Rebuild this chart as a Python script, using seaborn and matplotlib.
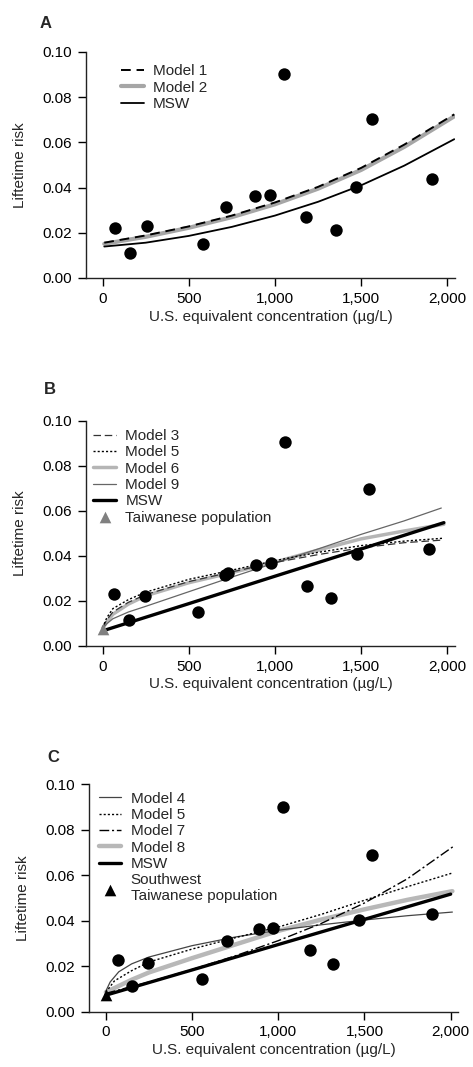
import matplotlib
matplotlib.use("Agg")
import matplotlib.pyplot as plt
import seaborn as sns
import numpy as np

# ---------------- data ----------------
# Panel A observed points
a_x = [70, 160, 255, 585, 715, 883, 970, 1050, 1183, 1353, 1469, 1563, 1909]
a_y = [0.0223, 0.0110, 0.0230, 0.0150, 0.0316, 0.0363, 0.0366, 0.0904, 0.0269, 0.0211, 0.0404, 0.0705, 0.0437]
# Panel A curves
a_curve_x = [10, 250, 500, 750, 1000, 1250, 1500, 1750, 2040]
a_model1 = [0.0156, 0.0188, 0.0228, 0.0276, 0.0334, 0.0403, 0.0487, 0.0590, 0.0724]
a_model2 = [0.0151, 0.0182, 0.0222, 0.0269, 0.0326, 0.0395, 0.0478, 0.0580, 0.0715]
a_msw = [0.0139, 0.0156, 0.0186, 0.0226, 0.0276, 0.0337, 0.0410, 0.0497, 0.0614]

# Panel B observed points
b_x = [68, 151, 245, 556, 709, 725, 891, 976, 1057, 1185, 1328, 1474, 1548, 1894]
b_y = [0.0230, 0.0114, 0.0221, 0.0149, 0.0315, 0.0324, 0.0361, 0.0367, 0.0905, 0.0267, 0.0212, 0.0406, 0.0698, 0.0429]
# Panel B curves
b_curve_x = [0, 25, 60, 150, 250, 500, 750, 1000, 1250, 1500, 1750, 1980]
b_model3 = [0.0080, 0.0115, 0.0150, 0.0193, 0.0227, 0.0285, 0.0328, 0.0370, 0.0405, 0.0435, 0.0458, 0.0470]
b_model5 = [0.0080, 0.0125, 0.0165, 0.0205, 0.0238, 0.0295, 0.0336, 0.0378, 0.0415, 0.0445, 0.0465, 0.0478]
b_model6 = [0.0078, 0.0105, 0.0140, 0.0185, 0.0222, 0.0280, 0.0325, 0.0372, 0.0425, 0.0475, 0.0510, 0.0540]
b_model9_x = [0, 25, 60, 150, 250, 500, 750, 1000, 1250, 1500, 1750, 1965]
b_model9 = [0.0076, 0.0098, 0.0120, 0.0150, 0.0175, 0.0240, 0.0305, 0.0368, 0.0430, 0.0495, 0.0555, 0.0612]
b_msw_x = [0, 500, 1000, 1500, 1980]
b_msw = [0.0066, 0.0187, 0.0309, 0.0430, 0.0547]
b_taiwan_x = [0]
b_taiwan_y = [0.0076]

# Panel C observed points
c_x = [70, 151, 242, 555, 701, 887, 972, 1030, 1184, 1320, 1469, 1544, 1890]
c_y = [0.0225, 0.0112, 0.0215, 0.0144, 0.0310, 0.0363, 0.0366, 0.0899, 0.0269, 0.0210, 0.0401, 0.0690, 0.0431]
# Panel C curves
c_model4_x = [0, 25, 75, 150, 250, 500, 750, 1000, 1250, 1500, 1750, 2010]
c_model4 = [0.0090, 0.0130, 0.0175, 0.0210, 0.0240, 0.0290, 0.0328, 0.0358, 0.0382, 0.0403, 0.0422, 0.0438]
c_model5_x = [0, 50, 150, 250, 500, 750, 1000, 1250, 1500, 1750, 2010]
c_model5 = [0.0085, 0.0135, 0.0180, 0.0218, 0.0275, 0.0325, 0.0372, 0.0428, 0.0490, 0.0550, 0.0610]
c_model7_x = [0, 250, 500, 750, 1000, 1250, 1500, 1750, 2025]
c_model7 = [0.0080, 0.0130, 0.0185, 0.0245, 0.0312, 0.0388, 0.0478, 0.0585, 0.0732]
c_model8_x = [0, 150, 250, 500, 750, 1000, 1250, 1500, 1750, 2010]
c_model8 = [0.0085, 0.0140, 0.0172, 0.0235, 0.0295, 0.0355, 0.0405, 0.0450, 0.0492, 0.0530]
c_msw_x = [0, 500, 1000, 1500, 2000]
c_msw = [0.0072, 0.0183, 0.0295, 0.0406, 0.0517]
c_taiwan_x = [0]
c_taiwan_y = [0.0071]

x_ticks = [0, 500, 1000, 1500, 2000]
x_tick_labels = ["0", "500", "1,000", "1,500", "2,000"]
y_ticks = [0.00, 0.02, 0.04, 0.06, 0.08, 0.10]
y_tick_labels = ["0.00", "0.02", "0.04", "0.06", "0.08", "0.10"]
x_label = "U.S. equivalent concentration (\u00b5g/L)"
y_label = "Liftetime risk"

# ---------------- style ----------------
sns.set_style("ticks")
plt.rcParams["font.family"] = ["Liberation Sans", "DejaVu Sans"]
plt.rcParams["font.size"] = 11
plt.rcParams["axes.linewidth"] = 1.0
plt.rcParams["xtick.major.size"] = 6
plt.rcParams["ytick.major.size"] = 6
plt.rcParams["xtick.major.width"] = 1.0
plt.rcParams["ytick.major.width"] = 1.0
plt.rcParams["xtick.color"] = "black"
plt.rcParams["ytick.color"] = "black"
plt.rcParams["axes.edgecolor"] = "#222222"

fig = plt.figure(figsize=(4.73, 10.67), dpi=100)

axA = fig.add_axes([0.1818, 0.7395, 0.780, 0.2118])
axB = fig.add_axes([0.1818, 0.3948, 0.780, 0.2109])
axC = fig.add_axes([0.1888, 0.0520, 0.780, 0.2128])


def style_axis(ax):
    ax.set_xlim(-96, 2044)
    ax.set_ylim(0, 0.1)
    ax.set_xticks(x_ticks)
    ax.set_xticklabels(x_tick_labels, fontsize=11)
    ax.set_yticks(y_ticks)
    ax.set_yticklabels(y_tick_labels, fontsize=11)
    ax.tick_params(axis="both", pad=4, direction="out")
    sns.despine(ax=ax)
    ax.set_xlabel(x_label, fontsize=11)
    ax.set_ylabel(y_label, fontsize=11)
    ax.xaxis.set_label_coords(0.5, -0.14)
    ax.yaxis.set_label_coords(-0.16, 0.5)


def dots(ax, xs, ys):
    sns.scatterplot(x=xs, y=ys, ax=ax, color="black", s=80, edgecolor="black",
                    linewidth=0, zorder=5, legend=False)


leg_kw = dict(loc="upper left", frameon=False, handlelength=1.5, handletextpad=0.6,
              labelspacing=0.15, borderpad=0, borderaxespad=0, fontsize=11)

# ---------------- Panel A ----------------
sns.lineplot(x=a_curve_x, y=a_model2, ax=axA, color="#a6a6a6", lw=3.0, label="Model 2", zorder=2)
sns.lineplot(x=a_curve_x, y=a_model1, ax=axA, color="black", lw=1.4, linestyle=(0, (5, 3)), label="Model 1", zorder=3)
sns.lineplot(x=a_curve_x, y=a_msw, ax=axA, color="black", lw=1.3, label="MSW", zorder=3)
dots(axA, a_x, a_y)
style_axis(axA)
h, l = axA.get_legend_handles_labels()
order = [l.index("Model 1"), l.index("Model 2"), l.index("MSW")]
axA.legend([h[i] for i in order], [l[i] for i in order],
           bbox_to_anchor=(0.095, 0.945), **leg_kw)

# ---------------- Panel B ----------------
sns.lineplot(x=b_curve_x, y=b_model6, ax=axB, color="#b5b5b5", lw=2.5, label="Model 6", zorder=2)
sns.lineplot(x=b_model9_x, y=b_model9, ax=axB, color="#666666", lw=0.9, label="Model 9", zorder=3)
sns.lineplot(x=b_curve_x, y=b_model3, ax=axB, color="#333333", lw=0.9, linestyle=(0, (6, 3)), label="Model 3", zorder=3)
sns.lineplot(x=b_curve_x, y=b_model5, ax=axB, color="black", lw=1.0, linestyle=(0, (1.5, 1.5)), label="Model 5", zorder=3)
sns.lineplot(x=b_msw_x, y=b_msw, ax=axB, color="black", lw=2.4, label="MSW", zorder=4)
sns.scatterplot(x=b_taiwan_x, y=b_taiwan_y, ax=axB, color="#808080", marker="^", s=70,
                linewidth=0, zorder=6, label="Taiwanese population")
dots(axB, b_x, b_y)
style_axis(axB)
h, l = axB.get_legend_handles_labels()
want = ["Model 3", "Model 5", "Model 6", "Model 9", "MSW", "Taiwanese population"]
order = [l.index(w) for w in want]
axB.legend([h[i] for i in order], [l[i] for i in order],
           bbox_to_anchor=(0.02, 0.963), **leg_kw)

# ---------------- Panel C ----------------
sns.lineplot(x=c_model8_x, y=c_model8, ax=axC, color="#b8b8b8", lw=3.2, label="Model 8", zorder=2)
sns.lineplot(x=c_model4_x, y=c_model4, ax=axC, color="#444444", lw=0.9, label="Model 4", zorder=3)
sns.lineplot(x=c_model5_x, y=c_model5, ax=axC, color="black", lw=1.0, linestyle=(0, (1.5, 1.5)), label="Model 5", zorder=3)
sns.lineplot(x=c_model7_x, y=c_model7, ax=axC, color="black", lw=1.0, linestyle=(0, (7, 2, 1.5, 2)), label="Model 7", zorder=3)
sns.lineplot(x=c_msw_x, y=c_msw, ax=axC, color="black", lw=2.4, label="MSW", zorder=4)
sns.scatterplot(x=c_taiwan_x, y=c_taiwan_y, ax=axC, color="black", marker="^", s=70,
                linewidth=0, zorder=6, label="Southwest\nTaiwanese population")
dots(axC, c_x, c_y)
style_axis(axC)
h, l = axC.get_legend_handles_labels()
want = ["Model 4", "Model 5", "Model 7", "Model 8", "MSW", "Southwest\nTaiwanese population"]
order = [l.index(w) for w in want]
axC.legend([h[i] for i in order], [l[i] for i in order],
           bbox_to_anchor=(0.025, 0.968), **leg_kw)

# panel letters
fig.text(0.097, 0.978, "A", fontsize=12, fontweight="bold", ha="center", va="center")
fig.text(0.106, 0.6345, "B", fontsize=12, fontweight="bold", ha="center", va="center")
fig.text(0.112, 0.2905, "C", fontsize=12, fontweight="bold", ha="center", va="center")

fig.savefig("out.png", dpi=100)
